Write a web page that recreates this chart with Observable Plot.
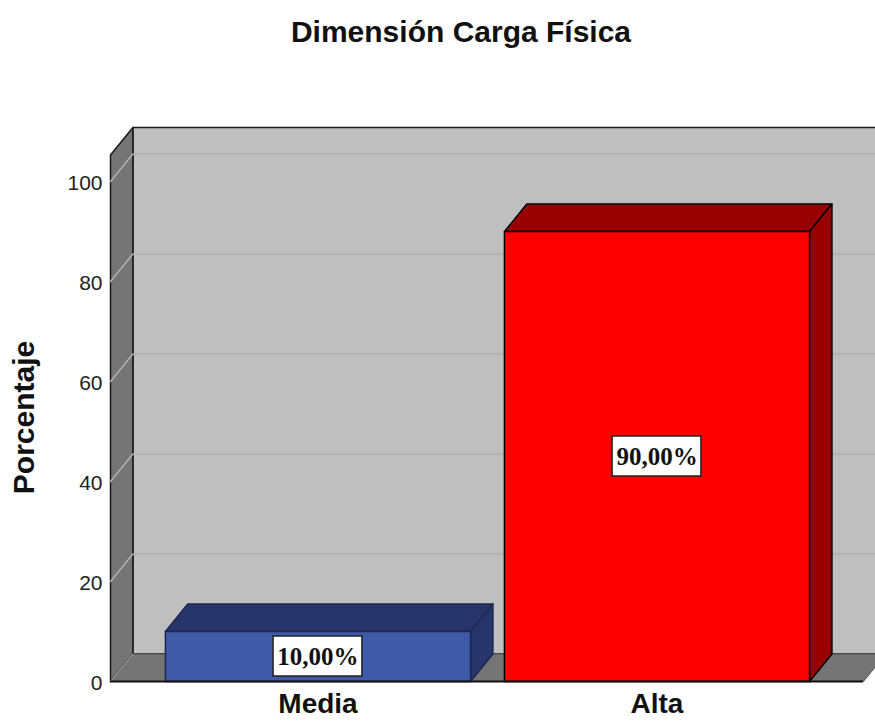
<!DOCTYPE html>
<html><head><meta charset="utf-8">
<script src="https://cdn.jsdelivr.net/npm/d3@7"></script>
<script src="https://cdn.jsdelivr.net/npm/@observablehq/plot@0.6"></script>
<style>
html,body{margin:0;padding:0;background:#fff;overflow:hidden}
#t{height:65px;box-sizing:border-box;padding:14px 0 0 47px;width:875px;text-align:center;font:bold 30px/36px "Liberation Sans",Arial,sans-serif;color:#111}
svg{display:block}
</style></head><body>
<div id="t">Dimensión Carga Física</div>
<div id="c"></div>
<script>
const categories = ["Media", "Alta"];
const values = [10, 90];
const labels = ["10,00%", "90,00%"];
const yTicks = [0, 20, 40, 60, 80, 100];
const yTitle = "Porcentaje";
const frontColors = ["#3f5aa8", "#ff0000"];
const darkColors = ["#27356a", "#990000"];
const strokeColors = ["#1d2850", "#000000"];

// chart geometry in scale units
const dx = 0.066, dy = 5.5, barHalf = 0.45;
const xLeft = -0.612, xView = 1.6445, xFloor = 1.609, yTop = 105.3;
const boxHalfX = 0.131, boxHalfY = 4;

const poly = (id, fill, stroke, pts) => pts.map(([x, y]) => ({id, fill, stroke, x, y}));
const shape = (data, sw = 1.5) => Plot.line(data, {x: "x", y: "y", z: "id", fill: d => d.fill, stroke: d => d.stroke, strokeWidth: sw, curve: "linear-closed", strokeLinejoin: "round"});

const wall = poly("back", "#bfbfbf", "#1a1a1a", [[xLeft+dx,dy],[xFloor+dx,dy],[xFloor+dx,yTop+dy],[xLeft+dx,yTop+dy]]);
const side = poly("left", "#757575", "#1a1a1a", [[xLeft,0],[xLeft+dx,dy],[xLeft+dx,yTop+dy],[xLeft,yTop]]);
const floor = poly("floor", "#757575", "#555555", [[xLeft,0],[xFloor,0],[xFloor+dx,dy],[xLeft+dx,dy]]);

const grid = yTicks.slice(1).flatMap(v => [
  {id: v, x: xLeft, y: v}, {id: v, x: xLeft+dx, y: v+dy}, {id: v, x: xFloor+dx, y: v+dy}
]);

const faces = categories.flatMap((c, i) => {
  const a = i - barHalf, b = i + barHalf, v = values[i];
  const f = frontColors[i], k = darkColors[i], s = strokeColors[i];
  return [
    shape(poly(c+"t", k, s, [[a,v],[b,v],[b+dx,v+dy],[a+dx,v+dy]])),
    shape(poly(c+"s", k, s, [[b,0],[b+dx,dy],[b+dx,v+dy],[b,v]])),
    shape(poly(c+"f", f, s, [[a,0],[b,0],[b,v],[a,v]]))
  ];
});

const boxes = categories.map((c, i) => ({
  x1: i - boxHalfX, x2: i + boxHalfX, y1: values[i]/2 - boxHalfY, y2: values[i]/2 + boxHalfY,
  cx: i, cy: values[i]/2, label: labels[i]
}));

const chart = Plot.plot({
  width: 875, height: 657,
  marginLeft: 110, marginRight: 0, marginTop: 0, marginBottom: 41,
  style: {background: "#fff", overflow: "hidden"},
  x: {type: "linear", domain: [xLeft, xView], axis: null},
  y: {domain: [0, 123.2], axis: null},
  marks: [
    shape(wall), shape(side), shape(floor, 1),
    Plot.line(grid, {x: "x", y: "y", z: "id", stroke: "#b1b1b1", strokeWidth: 1.5}),
    Plot.line([{x:xLeft,y:0},{x:xLeft+dx,y:dy}], {x:"x", y:"y", stroke:"#adadad", strokeWidth:1}),
    ...faces,
    Plot.ruleY([0], {x1: xLeft, x2: xFloor, stroke: "#111", strokeWidth: 2}),
    Plot.rect(boxes, {x1: "x1", x2: "x2", y1: "y1", y2: "y2", fill: "#fff", stroke: "#222", strokeWidth: 1.5}),
    Plot.text(boxes, {x: "cx", y: "cy", text: "label", fill: "#111", fontSize: 25, fontWeight: "bold", fontFamily: "Liberation Serif"}),
    Plot.axisY({ticks: yTicks, tickSize: 0, tickPadding: 8, dy: 2, label: null, fontSize: 21, fontFamily: "Liberation Sans", color: "#222", anchor: "left"}),
    Plot.axisX({ticks: [0, 1], tickFormat: i => categories[i], tickSize: 0, tickPadding: 12, label: null, fontSize: 28, fontWeight: "bold", fontFamily: "Liberation Sans", color: "#111", anchor: "bottom"}),
    Plot.text([yTitle], {frameAnchor: "left", y: [52.8], dx: -86, rotate: -90, textAnchor: "middle", text: d => d, fontSize: 30, fontWeight: "bold", fontFamily: "Liberation Sans", fill: "#111"})
  ]
});
document.getElementById("c").append(chart);
</script>
</body></html>
